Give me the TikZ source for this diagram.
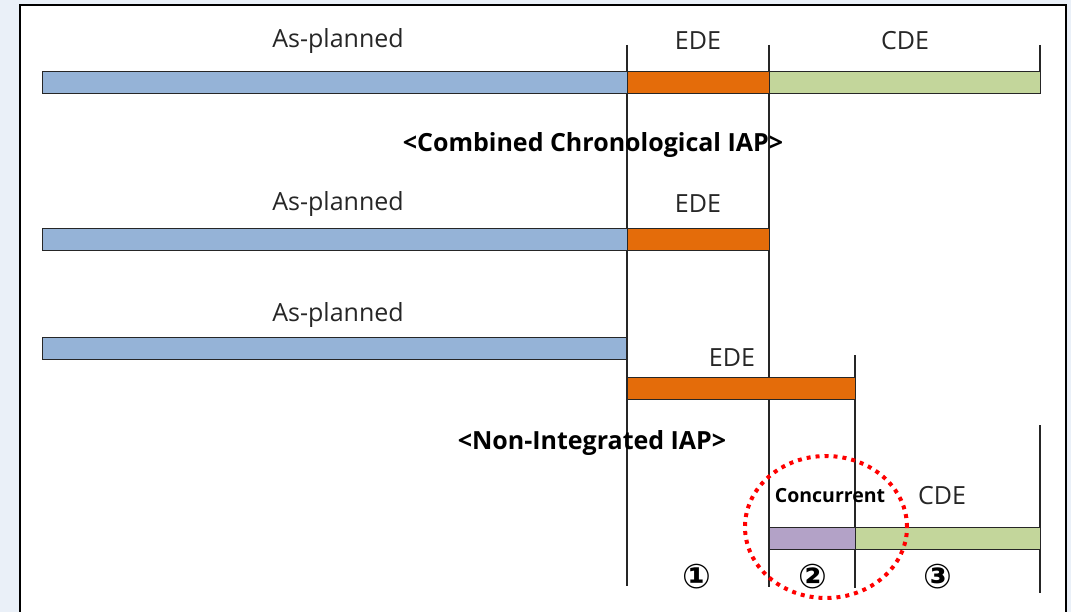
\documentclass[tikz,border=0pt]{standalone}
\usepackage{fontspec}
\setmainfont{Open Sans}
\newfontfamily\symfont{DejaVu Sans}
\definecolor{bgblue}{HTML}{EAF0F8}
\definecolor{barblue}{HTML}{95B3D7}
\definecolor{barorange}{HTML}{E46C0A}
\definecolor{bargreen}{HTML}{C3D69B}
\definecolor{barpurple}{HTML}{B3A2C7}
\definecolor{txt}{HTML}{262626}
\begin{document}
\begin{tikzpicture}[x=1pt,y=-1pt,
  bar/.style={draw=black!85,line width=1.2pt,inner sep=0pt,minimum height=22pt,anchor=north west},
  lbl/.style={text=txt,font=\fontsize{25}{27}\selectfont,inner sep=0pt},
  ttl/.style={text=black,font=\fontsize{25}{27}\selectfont\bfseries,inner sep=0pt},
  num/.style={text=black,font=\symfont\fontsize{34}{36}\selectfont\bfseries,inner sep=0pt},
  vline/.style={draw=black!85,line width=1.2pt}]
\useasboundingbox (0,0) rectangle (1071,612);
\fill[bgblue] (0,0) rectangle (1071,612);
\draw[fill=white,line width=2pt] (20,5) rectangle (1066,640);

% vertical lines
\coordinate (a1) at (627,45); \coordinate (a2) at (627,586);
\coordinate (b1) at (769,45); \coordinate (b2) at (769,587);
\coordinate (c1) at (855,355); \coordinate (c2) at (855,588);
\coordinate (d1) at (1040,45); \coordinate (d2) at (1040,94);
\coordinate (e1) at (1040,425); \coordinate (e2) at (1040,593);
\draw[vline] (a1) -- (a2);
\draw[vline] (b1) -- (b2);
\draw[vline] (c1) -- (c2);
\draw[vline] (d1) -- (d2);
\draw[vline] (e1) -- (e2);

% row 1
\node[bar,fill=barblue,minimum width=585pt] (ap1) at (42,71) {};
\node[bar,fill=barorange,minimum width=142pt] (ede1) at (627,71) {};
\node[bar,fill=bargreen,minimum width=271pt] (cde1) at (769,71) {};
\node[lbl] (tap1) at (338,41) {As-planned};
\node[lbl] (tede1) at (698,41) {EDE};
\node[lbl] (tcde1) at (905,41) {CDE};
\node[ttl] (title1) at (593,145) {<Combined Chronological IAP>};

% row 2
\node[bar,fill=barblue,minimum width=585pt] (ap2) at (42,228) {};
\node[bar,fill=barorange,minimum width=142pt] (ede2) at (627,228) {};
\node[lbl] (tap2) at (338,204) {As-planned};
\node[lbl] (tede2) at (698,204) {EDE};

% row 3
\node[bar,fill=barblue,minimum width=584pt] (ap3) at (42,337) {};
\node[lbl] (tap3) at (338,315) {As-planned};
\node[bar,fill=barorange,minimum width=228pt] (ede3) at (627,377) {};
\node[lbl] (tede3) at (732,358) {EDE};
\node[ttl] (title2) at (592,443) {<Non-Integrated IAP>};

% row 4
\node[bar,fill=barpurple,minimum width=86pt] (conc) at (769,527) {};
\node[bar,fill=bargreen,minimum width=185pt] (cde4) at (855,527) {};
\node[text=black,font=\fontsize{19.5}{21}\selectfont\bfseries,inner sep=0pt] (tconc) at (830,496) {Concurrent};
\node[lbl] (tcde4) at (942,496) {CDE};

\node[num] (n1) at (697,577) {①};
\node[num] (n2) at (813,577) {②};
\node[num] (n3) at (938,577) {③};

% dotted circle
\draw[red,line width=4pt,dash pattern=on 4pt off 5pt] (826,527) ellipse [x radius=81pt,y radius=71pt];
\end{tikzpicture}
\end{document}
